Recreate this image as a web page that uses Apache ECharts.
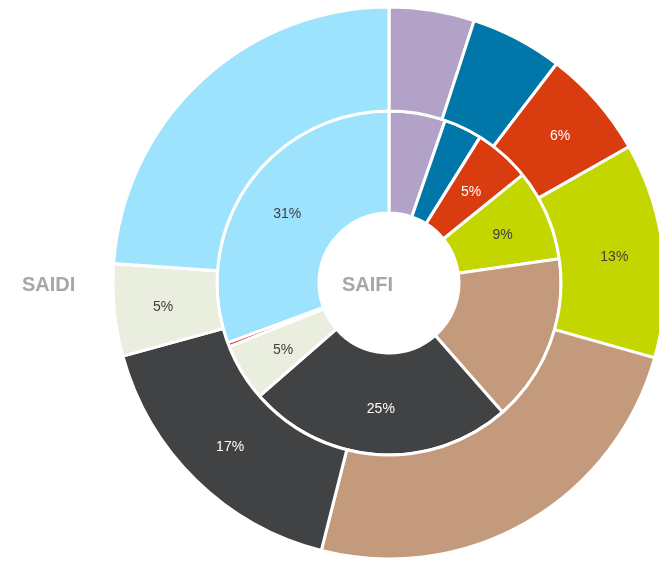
<!DOCTYPE html>
<html>
<head>
<meta charset="utf-8">
<script src="https://cdn.jsdelivr.net/npm/echarts@6/dist/echarts.min.js"></script>
<style>
  html, body { margin: 0; padding: 0; background: #fff; }
  #chart { width: 659px; height: 562px; }
</style>
</head>
<body>
<div id="chart"></div>
<script>
// categories clockwise from the top
var causes = ['Cause A', 'Cause B', 'Cause C', 'Cause D', 'Cause E', 'Cause F', 'Cause G', 'Cause H', 'Cause I']
var colors = ['#b3a2c8', '#0077a8', '#d93c0f', '#c4d600', '#c49a7c', '#414244', '#eaeedf', '#e8333a', '#9de3fd']
// share in %
var saifi = [5.3, 3.6, 5.3, 8.6, 15.8, 25.1, 5.4, 0.4, 30.7]
var saidi = [5.0, 5.4, 6.4, 12.6, 24.6, 16.8, 5.4, 0, 23.9]
// which slices carry a percent label
var saifiLabels = [false, false, true, true, false, true, true, false, true]
var saidiLabels = [false, false, true, true, false, true, true, false, false]
var whiteText = ['Cause C', 'Cause F']

function buildData (values, flags) {
  return values.map(function (v, i) {
    return {
      name: causes[i],
      value: v,
      itemStyle: { color: colors[i] },
      label: {
        show: flags[i],
        color: whiteText.indexOf(causes[i]) >= 0 ? '#ffffff' : '#404040'
      }
    }
  })
}

var chart = echarts.init(document.getElementById('chart'))
var labelStyle = {
  position: 'inside',
  fontFamily: 'Liberation Sans, Arial, sans-serif',
  fontSize: 14,
  offset: [0, 2],
  formatter: function (p) { return Math.round(p.percent) + '%' }
}
var nameFont = 'bold 20px Liberation Sans, Arial, sans-serif'
chart.setOption({
  animation: false,
  graphic: [
    {
      type: 'text', x: 342, y: 285,
      style: { text: 'SAIFI', fill: '#a6a6a6', font: nameFont, verticalAlign: 'middle' }
    },
    {
      type: 'text', x: 22, y: 285,
      style: { text: 'SAIDI', fill: '#a6a6a6', font: nameFont, verticalAlign: 'middle' }
    }
  ],
  series: [
    {
      name: 'SAIFI',
      type: 'pie',
      center: [389, 283],
      radius: [70, 172],
      startAngle: 90,
      clockwise: true,
      avoidLabelOverlap: false,
      minShowLabelAngle: 0,
      itemStyle: { borderColor: '#ffffff', borderWidth: 3 },
      label: labelStyle,
      labelLine: { show: false },
      emphasis: { disabled: true },
      data: buildData(saifi, saifiLabels)
    },
    {
      name: 'SAIDI',
      type: 'pie',
      center: [389, 283],
      radius: [172, 276],
      startAngle: 90,
      clockwise: true,
      avoidLabelOverlap: false,
      itemStyle: { borderColor: '#ffffff', borderWidth: 3 },
      label: labelStyle,
      labelLine: { show: false },
      emphasis: { disabled: true },
      data: buildData(saidi, saidiLabels)
    }
  ]
})
</script>
</body>
</html>
